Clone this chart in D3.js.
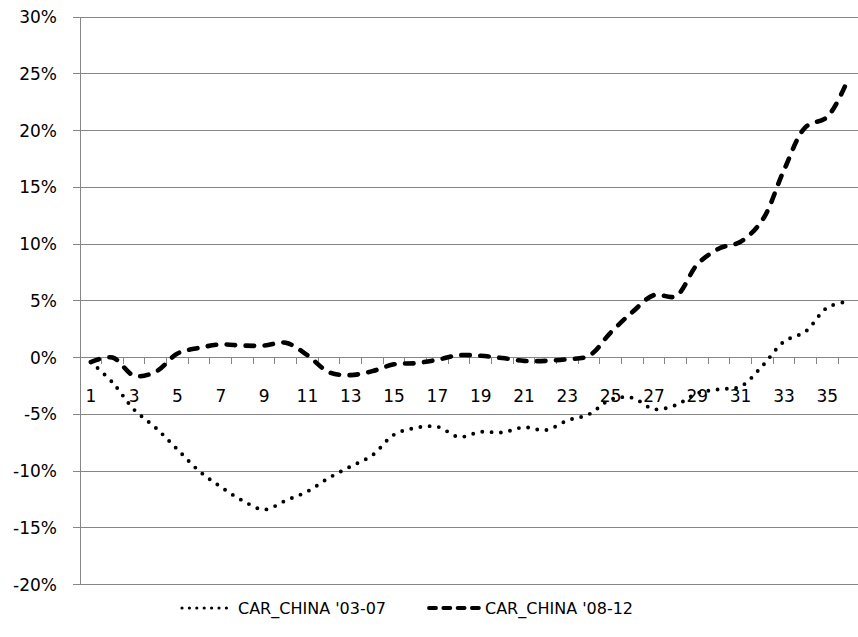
<!DOCTYPE html>
<html>
<head>
<meta charset="utf-8">
<script src="https://cdn.jsdelivr.net/npm/d3@7/dist/d3.min.js"></script>
<style>
  html, body { margin: 0; padding: 0; background: #fff; }
  svg { display: block; }
  text { font-family: "DejaVu Sans", sans-serif; fill: #000; }
</style>
</head>
<body>
<svg id="chart" width="858" height="637"></svg>
<script>
// ---- data ----
const categories = d3.range(1, 37);
const series0307 = [-0.4, -2.2, -4.6, -6.2, -8.1, -10.0, -11.4, -12.6, -13.4, -12.6, -11.8, -10.6,
  -9.6, -8.6, -6.8, -6.2, -6.1, -7.0, -6.55, -6.6, -6.15, -6.4, -5.55, -5.0,
  -3.7, -3.55, -4.55, -4.2, -3.15, -2.8, -2.55, -0.75, 1.4, 2.3, 4.4, 4.95];
const series0812 = [-0.4, 0.0, -1.6, -1.25, 0.35, 0.85, 1.15, 1.05, 1.05, 1.3, 0.2, -1.3,
  -1.55, -1.2, -0.6, -0.5, -0.2, 0.2, 0.15, -0.05, -0.3, -0.3, -0.15, 0.15,
  2.2, 4.0, 5.5, 5.4, 8.2, 9.6, 10.2, 12.1, 16.5, 20.3, 21.2, 24.7];
const seriesNames = ["CAR_CHINA '03-07", "CAR_CHINA '08-12"];
const yTicks = [-20, -15, -10, -5, 0, 5, 10, 15, 20, 25, 30];
const xLabelCats = d3.range(1, 37, 2);

// ---- layout ----
const svg = d3.select("#chart");
const plotLeft = 80, step = 21.66, plotTop = 17, plotBottom = 584.5;
const x = d3.scaleBand().domain(categories).range([plotLeft, plotLeft + step * categories.length]).padding(0);
const y = d3.scaleLinear().domain([-20, 30]).range([plotBottom, plotTop]);
const cx = d => x(d) + x.bandwidth() / 2;
const gridColor = "#868686";

// gridlines
svg.append("g").selectAll("line").data(yTicks).join("line")
  .attr("x1", plotLeft - 7).attr("x2", 858)
  .attr("y1", d => y(d)).attr("y2", d => y(d))
  .attr("stroke", gridColor).attr("stroke-width", 1).attr("shape-rendering", "crispEdges");

// y axis line
svg.append("line").attr("x1", plotLeft).attr("x2", plotLeft).attr("y1", y(30)).attr("y2", y(-20))
  .attr("stroke", gridColor).attr("stroke-width", 1).attr("shape-rendering", "crispEdges");

// y labels
svg.append("g").selectAll("text").data(yTicks).join("text")
  .attr("x", 57).attr("y", d => y(d)).attr("dy", "0.36em")
  .attr("text-anchor", "end").attr("font-size", 17)
  .text(d => d + "%");

// x axis ticks at 0
const tickPos = categories.map(d => x(d)).concat([x.range()[1]]);
svg.append("g").selectAll("line").data(tickPos).join("line")
  .attr("x1", d => d).attr("x2", d => d)
  .attr("y1", y(0)).attr("y2", y(0) + 6)
  .attr("stroke", gridColor).attr("stroke-width", 1).attr("shape-rendering", "crispEdges");

// x labels
svg.append("g").selectAll("text").data(xLabelCats).join("text")
  .attr("x", d => cx(d)).attr("y", 401.5)
  .attr("text-anchor", "middle").attr("font-size", 17)
  .text(d => d);

// lines
const line = d3.line().x((d, i) => cx(categories[i])).y(d => y(d)).curve(d3.curveCatmullRom.alpha(0.5));

svg.append("path").datum(series0307)
  .attr("d", line).attr("fill", "none").attr("stroke", "#000")
  .attr("stroke-width", 3.9).attr("stroke-linecap", "round").attr("stroke-dasharray", "0 9.3");

svg.append("path").datum(series0812)
  .attr("d", line).attr("fill", "none").attr("stroke", "#000")
  .attr("stroke-width", 4.6).attr("stroke-linecap", "round").attr("stroke-dasharray", "8.5 10.5");

// legend
const ly = 608;
const lg = svg.append("g");
lg.append("line").attr("x1", 182).attr("x2", 227).attr("y1", ly).attr("y2", ly)
  .attr("stroke", "#000").attr("stroke-width", 3.2).attr("stroke-linecap", "round").attr("stroke-dasharray", "0 7.4");
lg.append("text").attr("x", 238).attr("y", ly).attr("dy", "0.36em").attr("font-size", 16).text(seriesNames[0]);
lg.append("line").attr("x1", 429).attr("x2", 482).attr("y1", ly).attr("y2", ly)
  .attr("stroke", "#000").attr("stroke-width", 3.8).attr("stroke-linecap", "round").attr("stroke-dasharray", "7 7.3");
lg.append("text").attr("x", 485).attr("y", ly).attr("dy", "0.36em").attr("font-size", 16).text(seriesNames[1]);
</script>
</body>
</html>
